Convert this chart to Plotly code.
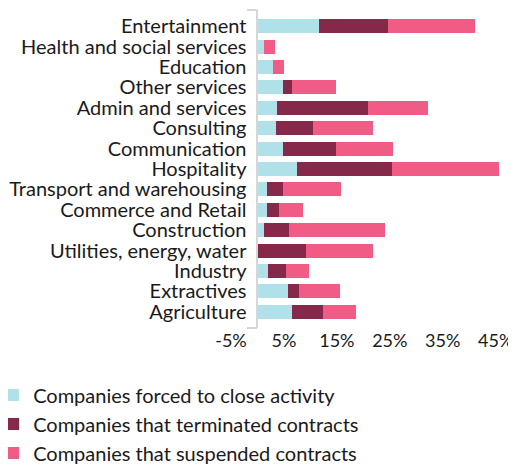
import plotly.graph_objects as go

categories = ["Entertainment", "Health and social services", "Education", "Other services",
              "Admin and services", "Consulting", "Communication", "Hospitality",
              "Transport and warehousing", "Commerce and Retail", "Construction",
              "Utilities, energy, water", "Industry", "Extractives", "Agriculture"]
forced_close = [11.6, 1.2, 2.9, 4.8, 3.7, 3.5, 4.8, 7.4, 1.8, 1.8, 1.2, 0.0, 2.0, 5.7, 6.5]
terminated = [13.0, 0.0, 0.0, 1.7, 17.2, 7.0, 10.0, 18.0, 3.0, 2.3, 4.7, 9.1, 3.4, 2.1, 5.9]
suspended = [16.4, 2.1, 2.1, 8.3, 11.3, 11.3, 10.8, 20.2, 11.0, 4.5, 18.1, 12.7, 4.3, 7.8, 6.2]
series_names = ["Companies forced to close activity", "Companies that terminated contracts",
                "Companies that suspended contracts"]
tick_values = [-5, 5, 15, 25, 35, 45]
tick_labels = ["-5%", "5%", "15%", "25%", "35%", "45%"]

colors = ["#b1e1e8", "#852849", "#f05c86"]
FONT = "Lato"

fig = go.Figure()
for name, vals, col in zip(series_names, [forced_close, terminated, suspended], colors):
    fig.add_trace(go.Bar(y=categories, x=vals, orientation="h", name=name,
                         marker=dict(color=col, line=dict(width=0))))

# invisible helper trace so the bracket axis has data
fig.add_trace(go.Scatter(x=[0, 0], y=[0, 1], yaxis="y2", mode="lines",
                         line=dict(width=0), showlegend=False, hoverinfo="skip"))

xmin, xmax = -5, 46
ypos = (0 - xmin) / (xmax - xmin)

fig.update_layout(
    width=508, height=457,
    margin=dict(l=223, r=15, t=2, b=137, autoexpand=False),
    barmode="stack", bargap=0.31,
    plot_bgcolor="white", paper_bgcolor="white",
    font=dict(family=FONT, size=20, color="#1a1a1a"),
    xaxis=dict(range=[xmin, xmax], tickvals=tick_values, ticktext=tick_labels,
               showgrid=False, zeroline=False, showline=False, automargin=False,
               ticks="", ticklabeloverflow="allow",
               tickfont=dict(size=18)),
    yaxis=dict(categoryorder="array", categoryarray=categories,
               tickmode="array", tickvals=categories, ticktext=categories,
               range=[14.8, -0.8], anchor="free", position=ypos, automargin=False,
               showgrid=False, zeroline=False, showline=True,
               linecolor="#d6d6d6", linewidth=2, ticklabeloverflow="allow",
               ticks="outside", ticklen=6, tickcolor="rgba(0,0,0,0)",
               tickfont=dict(size=20)),
    yaxis2=dict(range=[0, 1], tickvals=[0, 1], showticklabels=False,
                overlaying="y", anchor="free", position=ypos, automargin=False,
                showgrid=False, zeroline=False, showline=False,
                ticks="outside", ticklen=10, tickcolor="#d6d6d6", tickwidth=2),
    legend=dict(orientation="v", traceorder="normal", xref="paper", yref="container",
                x=-0.881, y=0.196, xanchor="left", yanchor="top",
                font=dict(size=20), bgcolor="rgba(0,0,0,0)"),
    showlegend=True,
)

fig.write_html("out.html")
